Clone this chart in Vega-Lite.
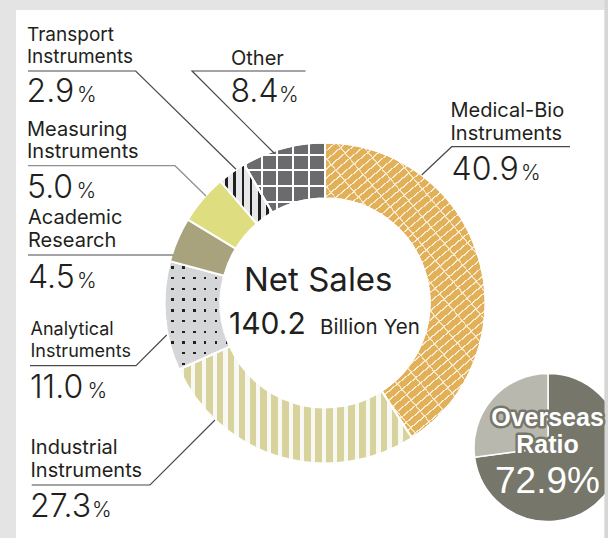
{
  "$schema": "https://vega.github.io/schema/vega-lite/v6.json",
  "width": 608,
  "height": 538,
  "autosize": {"type": "none"},
  "padding": 0,
  "background": "#e4e4e4",
  "config": {"view": {"stroke": null}},
  "layer": [
    {
      "data": {"values": [{}]},
      "mark": {"type": "rect", "fill": "#ffffff"},
      "encoding": {
        "x": {"datum": 16, "type": "quantitative", "scale": {"domain": [0, 608], "nice": false, "zero": false}, "axis": null},
        "x2": {"datum": 604.5},
        "y": {"datum": 10, "type": "quantitative", "scale": {"domain": [0, 538], "nice": false, "zero": false, "reverse": true}, "axis": null},
        "y2": {"datum": 538}
      }
    },
    {
      "data": {"values": [
        {"cat": "Medical-Bio Instruments", "v": 40.9, "o": 1},
        {"cat": "Industrial Instruments", "v": 27.3, "o": 2},
        {"cat": "Analytical Instruments", "v": 11.0, "o": 3},
        {"cat": "Academic Research", "v": 4.5, "o": 4},
        {"cat": "Measuring Instruments", "v": 5.0, "o": 5},
        {"cat": "Transport Instruments", "v": 2.9, "o": 6},
        {"cat": "Other", "v": 8.4, "o": 7}
      ]},
      "transform": [{"stack": "v", "groupby": [], "sort": [{"field": "o", "order": "ascending"}], "as": ["s0", "s1"]}],
      "encoding": {
        "theta": {"field": "s0", "type": "quantitative", "scale": {"domain": [0, 100], "nice": false, "zero": false}},
        "theta2": {"field": "s1"},
        "x": {"datum": 325, "type": "quantitative", "scale": {"domain": [0, 608], "nice": false, "zero": false}, "axis": null},
        "y": {"datum": 303, "type": "quantitative", "scale": {"domain": [0, 538], "nice": false, "zero": false, "reverse": true}, "axis": null}
      },
      "layer": [
        {
          "transform": [{"filter": "datum.cat == 'Medical-Bio Instruments'"}],
          "mark": {"type": "arc", "radius": 160.5, "radius2": 104.5, "stroke": "#ffffff", "strokeWidth": 2,
            "fill": {"gradient": "linear", "x1": 0, "y1": 0, "x2": 0.548, "y2": 1.205, "stops": [
              {"offset": 0, "color": "#e3b05a"},
              {"offset": 0.0193, "color": "#e3b05a"}, {"offset": 0.0193, "color": "#f8ecd2"}, {"offset": 0.0233, "color": "#f8ecd2"}, {"offset": 0.0233, "color": "#e3b05a"},
              {"offset": 0.0406, "color": "#e3b05a"}, {"offset": 0.0406, "color": "#f8ecd2"}, {"offset": 0.0446, "color": "#f8ecd2"}, {"offset": 0.0446, "color": "#e3b05a"},
              {"offset": 0.0619, "color": "#e3b05a"}, {"offset": 0.0619, "color": "#f8ecd2"}, {"offset": 0.0659, "color": "#f8ecd2"}, {"offset": 0.0659, "color": "#e3b05a"},
              {"offset": 0.0832, "color": "#e3b05a"}, {"offset": 0.0832, "color": "#f8ecd2"}, {"offset": 0.0872, "color": "#f8ecd2"}, {"offset": 0.0872, "color": "#e3b05a"},
              {"offset": 0.1046, "color": "#e3b05a"}, {"offset": 0.1046, "color": "#f8ecd2"}, {"offset": 0.1086, "color": "#f8ecd2"}, {"offset": 0.1086, "color": "#e3b05a"},
              {"offset": 0.1259, "color": "#e3b05a"}, {"offset": 0.1259, "color": "#f8ecd2"}, {"offset": 0.1299, "color": "#f8ecd2"}, {"offset": 0.1299, "color": "#e3b05a"},
              {"offset": 0.1472, "color": "#e3b05a"}, {"offset": 0.1472, "color": "#f8ecd2"}, {"offset": 0.1512, "color": "#f8ecd2"}, {"offset": 0.1512, "color": "#e3b05a"},
              {"offset": 0.1685, "color": "#e3b05a"}, {"offset": 0.1685, "color": "#f8ecd2"}, {"offset": 0.1725, "color": "#f8ecd2"}, {"offset": 0.1725, "color": "#e3b05a"},
              {"offset": 0.1898, "color": "#e3b05a"}, {"offset": 0.1898, "color": "#f8ecd2"}, {"offset": 0.1938, "color": "#f8ecd2"}, {"offset": 0.1938, "color": "#e3b05a"},
              {"offset": 0.2111, "color": "#e3b05a"}, {"offset": 0.2111, "color": "#f8ecd2"}, {"offset": 0.2151, "color": "#f8ecd2"}, {"offset": 0.2151, "color": "#e3b05a"},
              {"offset": 0.2324, "color": "#e3b05a"}, {"offset": 0.2324, "color": "#f8ecd2"}, {"offset": 0.2364, "color": "#f8ecd2"}, {"offset": 0.2364, "color": "#e3b05a"},
              {"offset": 0.2537, "color": "#e3b05a"}, {"offset": 0.2537, "color": "#f8ecd2"}, {"offset": 0.2577, "color": "#f8ecd2"}, {"offset": 0.2577, "color": "#e3b05a"},
              {"offset": 0.2750, "color": "#e3b05a"}, {"offset": 0.2750, "color": "#f8ecd2"}, {"offset": 0.2790, "color": "#f8ecd2"}, {"offset": 0.2790, "color": "#e3b05a"},
              {"offset": 0.2963, "color": "#e3b05a"}, {"offset": 0.2963, "color": "#f8ecd2"}, {"offset": 0.3003, "color": "#f8ecd2"}, {"offset": 0.3003, "color": "#e3b05a"},
              {"offset": 0.3177, "color": "#e3b05a"}, {"offset": 0.3177, "color": "#f8ecd2"}, {"offset": 0.3217, "color": "#f8ecd2"}, {"offset": 0.3217, "color": "#e3b05a"},
              {"offset": 0.3390, "color": "#e3b05a"}, {"offset": 0.3390, "color": "#f8ecd2"}, {"offset": 0.3430, "color": "#f8ecd2"}, {"offset": 0.3430, "color": "#e3b05a"},
              {"offset": 0.3603, "color": "#e3b05a"}, {"offset": 0.3603, "color": "#f8ecd2"}, {"offset": 0.3643, "color": "#f8ecd2"}, {"offset": 0.3643, "color": "#e3b05a"},
              {"offset": 0.3816, "color": "#e3b05a"}, {"offset": 0.3816, "color": "#f8ecd2"}, {"offset": 0.3856, "color": "#f8ecd2"}, {"offset": 0.3856, "color": "#e3b05a"},
              {"offset": 0.4029, "color": "#e3b05a"}, {"offset": 0.4029, "color": "#f8ecd2"}, {"offset": 0.4069, "color": "#f8ecd2"}, {"offset": 0.4069, "color": "#e3b05a"},
              {"offset": 0.4242, "color": "#e3b05a"}, {"offset": 0.4242, "color": "#f8ecd2"}, {"offset": 0.4282, "color": "#f8ecd2"}, {"offset": 0.4282, "color": "#e3b05a"},
              {"offset": 0.4455, "color": "#e3b05a"}, {"offset": 0.4455, "color": "#f8ecd2"}, {"offset": 0.4495, "color": "#f8ecd2"}, {"offset": 0.4495, "color": "#e3b05a"},
              {"offset": 0.4668, "color": "#e3b05a"}, {"offset": 0.4668, "color": "#f8ecd2"}, {"offset": 0.4708, "color": "#f8ecd2"}, {"offset": 0.4708, "color": "#e3b05a"},
              {"offset": 0.4881, "color": "#e3b05a"}, {"offset": 0.4881, "color": "#f8ecd2"}, {"offset": 0.4921, "color": "#f8ecd2"}, {"offset": 0.4921, "color": "#e3b05a"},
              {"offset": 0.5094, "color": "#e3b05a"}, {"offset": 0.5094, "color": "#f8ecd2"}, {"offset": 0.5134, "color": "#f8ecd2"}, {"offset": 0.5134, "color": "#e3b05a"},
              {"offset": 0.5308, "color": "#e3b05a"}, {"offset": 0.5308, "color": "#f8ecd2"}, {"offset": 0.5348, "color": "#f8ecd2"}, {"offset": 0.5348, "color": "#e3b05a"},
              {"offset": 0.5521, "color": "#e3b05a"}, {"offset": 0.5521, "color": "#f8ecd2"}, {"offset": 0.5561, "color": "#f8ecd2"}, {"offset": 0.5561, "color": "#e3b05a"},
              {"offset": 0.5734, "color": "#e3b05a"}, {"offset": 0.5734, "color": "#f8ecd2"}, {"offset": 0.5774, "color": "#f8ecd2"}, {"offset": 0.5774, "color": "#e3b05a"},
              {"offset": 0.5947, "color": "#e3b05a"}, {"offset": 0.5947, "color": "#f8ecd2"}, {"offset": 0.5987, "color": "#f8ecd2"}, {"offset": 0.5987, "color": "#e3b05a"},
              {"offset": 0.6160, "color": "#e3b05a"}, {"offset": 0.6160, "color": "#f8ecd2"}, {"offset": 0.6200, "color": "#f8ecd2"}, {"offset": 0.6200, "color": "#e3b05a"},
              {"offset": 0.6373, "color": "#e3b05a"}, {"offset": 0.6373, "color": "#f8ecd2"}, {"offset": 0.6413, "color": "#f8ecd2"}, {"offset": 0.6413, "color": "#e3b05a"},
              {"offset": 0.6586, "color": "#e3b05a"}, {"offset": 0.6586, "color": "#f8ecd2"}, {"offset": 0.6626, "color": "#f8ecd2"}, {"offset": 0.6626, "color": "#e3b05a"},
              {"offset": 0.6799, "color": "#e3b05a"}, {"offset": 0.6799, "color": "#f8ecd2"}, {"offset": 0.6839, "color": "#f8ecd2"}, {"offset": 0.6839, "color": "#e3b05a"},
              {"offset": 0.7012, "color": "#e3b05a"}, {"offset": 0.7012, "color": "#f8ecd2"}, {"offset": 0.7052, "color": "#f8ecd2"}, {"offset": 0.7052, "color": "#e3b05a"},
              {"offset": 0.7225, "color": "#e3b05a"}, {"offset": 0.7225, "color": "#f8ecd2"}, {"offset": 0.7265, "color": "#f8ecd2"}, {"offset": 0.7265, "color": "#e3b05a"},
              {"offset": 0.7439, "color": "#e3b05a"}, {"offset": 0.7439, "color": "#f8ecd2"}, {"offset": 0.7479, "color": "#f8ecd2"}, {"offset": 0.7479, "color": "#e3b05a"},
              {"offset": 0.7652, "color": "#e3b05a"}, {"offset": 0.7652, "color": "#f8ecd2"}, {"offset": 0.7692, "color": "#f8ecd2"}, {"offset": 0.7692, "color": "#e3b05a"},
              {"offset": 0.7865, "color": "#e3b05a"}, {"offset": 0.7865, "color": "#f8ecd2"}, {"offset": 0.7905, "color": "#f8ecd2"}, {"offset": 0.7905, "color": "#e3b05a"},
              {"offset": 0.8078, "color": "#e3b05a"}, {"offset": 0.8078, "color": "#f8ecd2"}, {"offset": 0.8118, "color": "#f8ecd2"}, {"offset": 0.8118, "color": "#e3b05a"},
              {"offset": 0.8291, "color": "#e3b05a"}, {"offset": 0.8291, "color": "#f8ecd2"}, {"offset": 0.8331, "color": "#f8ecd2"}, {"offset": 0.8331, "color": "#e3b05a"},
              {"offset": 0.8504, "color": "#e3b05a"}, {"offset": 0.8504, "color": "#f8ecd2"}, {"offset": 0.8544, "color": "#f8ecd2"}, {"offset": 0.8544, "color": "#e3b05a"},
              {"offset": 0.8717, "color": "#e3b05a"}, {"offset": 0.8717, "color": "#f8ecd2"}, {"offset": 0.8757, "color": "#f8ecd2"}, {"offset": 0.8757, "color": "#e3b05a"},
              {"offset": 0.8930, "color": "#e3b05a"}, {"offset": 0.8930, "color": "#f8ecd2"}, {"offset": 0.8970, "color": "#f8ecd2"}, {"offset": 0.8970, "color": "#e3b05a"},
              {"offset": 0.9143, "color": "#e3b05a"}, {"offset": 0.9143, "color": "#f8ecd2"}, {"offset": 0.9183, "color": "#f8ecd2"}, {"offset": 0.9183, "color": "#e3b05a"},
              {"offset": 0.9356, "color": "#e3b05a"}, {"offset": 0.9356, "color": "#f8ecd2"}, {"offset": 0.9396, "color": "#f8ecd2"}, {"offset": 0.9396, "color": "#e3b05a"},
              {"offset": 0.9570, "color": "#e3b05a"}, {"offset": 0.9570, "color": "#f8ecd2"}, {"offset": 0.9610, "color": "#f8ecd2"}, {"offset": 0.9610, "color": "#e3b05a"},
              {"offset": 0.9783, "color": "#e3b05a"}, {"offset": 0.9783, "color": "#f8ecd2"}, {"offset": 0.9823, "color": "#f8ecd2"}, {"offset": 0.9823, "color": "#e3b05a"},
              {"offset": 1, "color": "#e3b05a"}
            ]}}
        },
        {
          "transform": [{"filter": "datum.cat == 'Medical-Bio Instruments'"}],
          "mark": {"type": "arc", "radius": 160.5, "radius2": 104.5, "stroke": "#ffffff", "strokeWidth": 2,
            "fill": {"gradient": "linear", "x1": 0, "y1": 1, "x2": 0.7513, "y2": -0.1609, "stops": [
              {"offset": 0, "color": "rgba(248,236,210,0)"},
              {"offset": 0.0556, "color": "rgba(248,236,210,0)"}, {"offset": 0.0556, "color": "rgba(248,236,210,0.85)"}, {"offset": 0.0598, "color": "rgba(248,236,210,0.85)"}, {"offset": 0.0598, "color": "rgba(248,236,210,0)"},
              {"offset": 0.1133, "color": "rgba(248,236,210,0)"}, {"offset": 0.1133, "color": "rgba(248,236,210,0.85)"}, {"offset": 0.1175, "color": "rgba(248,236,210,0.85)"}, {"offset": 0.1175, "color": "rgba(248,236,210,0)"},
              {"offset": 0.1710, "color": "rgba(248,236,210,0)"}, {"offset": 0.1710, "color": "rgba(248,236,210,0.85)"}, {"offset": 0.1752, "color": "rgba(248,236,210,0.85)"}, {"offset": 0.1752, "color": "rgba(248,236,210,0)"},
              {"offset": 0.2287, "color": "rgba(248,236,210,0)"}, {"offset": 0.2287, "color": "rgba(248,236,210,0.85)"}, {"offset": 0.2329, "color": "rgba(248,236,210,0.85)"}, {"offset": 0.2329, "color": "rgba(248,236,210,0)"},
              {"offset": 0.2864, "color": "rgba(248,236,210,0)"}, {"offset": 0.2864, "color": "rgba(248,236,210,0.85)"}, {"offset": 0.2906, "color": "rgba(248,236,210,0.85)"}, {"offset": 0.2906, "color": "rgba(248,236,210,0)"},
              {"offset": 0.3441, "color": "rgba(248,236,210,0)"}, {"offset": 0.3441, "color": "rgba(248,236,210,0.85)"}, {"offset": 0.3483, "color": "rgba(248,236,210,0.85)"}, {"offset": 0.3483, "color": "rgba(248,236,210,0)"},
              {"offset": 0.4018, "color": "rgba(248,236,210,0)"}, {"offset": 0.4018, "color": "rgba(248,236,210,0.85)"}, {"offset": 0.4060, "color": "rgba(248,236,210,0.85)"}, {"offset": 0.4060, "color": "rgba(248,236,210,0)"},
              {"offset": 0.4595, "color": "rgba(248,236,210,0)"}, {"offset": 0.4595, "color": "rgba(248,236,210,0.85)"}, {"offset": 0.4637, "color": "rgba(248,236,210,0.85)"}, {"offset": 0.4637, "color": "rgba(248,236,210,0)"},
              {"offset": 0.5172, "color": "rgba(248,236,210,0)"}, {"offset": 0.5172, "color": "rgba(248,236,210,0.85)"}, {"offset": 0.5214, "color": "rgba(248,236,210,0.85)"}, {"offset": 0.5214, "color": "rgba(248,236,210,0)"},
              {"offset": 0.5749, "color": "rgba(248,236,210,0)"}, {"offset": 0.5749, "color": "rgba(248,236,210,0.85)"}, {"offset": 0.5791, "color": "rgba(248,236,210,0.85)"}, {"offset": 0.5791, "color": "rgba(248,236,210,0)"},
              {"offset": 0.6326, "color": "rgba(248,236,210,0)"}, {"offset": 0.6326, "color": "rgba(248,236,210,0.85)"}, {"offset": 0.6368, "color": "rgba(248,236,210,0.85)"}, {"offset": 0.6368, "color": "rgba(248,236,210,0)"},
              {"offset": 0.6903, "color": "rgba(248,236,210,0)"}, {"offset": 0.6903, "color": "rgba(248,236,210,0.85)"}, {"offset": 0.6945, "color": "rgba(248,236,210,0.85)"}, {"offset": 0.6945, "color": "rgba(248,236,210,0)"},
              {"offset": 0.7480, "color": "rgba(248,236,210,0)"}, {"offset": 0.7480, "color": "rgba(248,236,210,0.85)"}, {"offset": 0.7522, "color": "rgba(248,236,210,0.85)"}, {"offset": 0.7522, "color": "rgba(248,236,210,0)"},
              {"offset": 0.8057, "color": "rgba(248,236,210,0)"}, {"offset": 0.8057, "color": "rgba(248,236,210,0.85)"}, {"offset": 0.8099, "color": "rgba(248,236,210,0.85)"}, {"offset": 0.8099, "color": "rgba(248,236,210,0)"},
              {"offset": 0.8634, "color": "rgba(248,236,210,0)"}, {"offset": 0.8634, "color": "rgba(248,236,210,0.85)"}, {"offset": 0.8676, "color": "rgba(248,236,210,0.85)"}, {"offset": 0.8676, "color": "rgba(248,236,210,0)"},
              {"offset": 0.9211, "color": "rgba(248,236,210,0)"}, {"offset": 0.9211, "color": "rgba(248,236,210,0.85)"}, {"offset": 0.9253, "color": "rgba(248,236,210,0.85)"}, {"offset": 0.9253, "color": "rgba(248,236,210,0)"},
              {"offset": 1, "color": "rgba(248,236,210,0)"}
            ]}}
        },
        {
          "transform": [{"filter": "datum.cat == 'Industrial Instruments'"}],
          "mark": {"type": "arc", "radius": 160.5, "radius2": 104.5, "stroke": "#ffffff", "strokeWidth": 2,
            "fill": {"gradient": "linear", "x1": 0, "y1": 0, "x2": 1, "y2": 0, "stops": [
              {"offset": 0, "color": "#d8d39d"},
              {"offset": 0.0035, "color": "#d8d39d"}, {"offset": 0.0035, "color": "#f8f8f4"}, {"offset": 0.0215, "color": "#f8f8f4"}, {"offset": 0.0215, "color": "#d8d39d"},
              {"offset": 0.0504, "color": "#d8d39d"}, {"offset": 0.0504, "color": "#f8f8f4"}, {"offset": 0.0684, "color": "#f8f8f4"}, {"offset": 0.0684, "color": "#d8d39d"},
              {"offset": 0.0973, "color": "#d8d39d"}, {"offset": 0.0973, "color": "#f8f8f4"}, {"offset": 0.1153, "color": "#f8f8f4"}, {"offset": 0.1153, "color": "#d8d39d"},
              {"offset": 0.1442, "color": "#d8d39d"}, {"offset": 0.1442, "color": "#f8f8f4"}, {"offset": 0.1622, "color": "#f8f8f4"}, {"offset": 0.1622, "color": "#d8d39d"},
              {"offset": 0.1912, "color": "#d8d39d"}, {"offset": 0.1912, "color": "#f8f8f4"}, {"offset": 0.2092, "color": "#f8f8f4"}, {"offset": 0.2092, "color": "#d8d39d"},
              {"offset": 0.2381, "color": "#d8d39d"}, {"offset": 0.2381, "color": "#f8f8f4"}, {"offset": 0.2561, "color": "#f8f8f4"}, {"offset": 0.2561, "color": "#d8d39d"},
              {"offset": 0.2850, "color": "#d8d39d"}, {"offset": 0.2850, "color": "#f8f8f4"}, {"offset": 0.3030, "color": "#f8f8f4"}, {"offset": 0.3030, "color": "#d8d39d"},
              {"offset": 0.3319, "color": "#d8d39d"}, {"offset": 0.3319, "color": "#f8f8f4"}, {"offset": 0.3499, "color": "#f8f8f4"}, {"offset": 0.3499, "color": "#d8d39d"},
              {"offset": 0.3789, "color": "#d8d39d"}, {"offset": 0.3789, "color": "#f8f8f4"}, {"offset": 0.3969, "color": "#f8f8f4"}, {"offset": 0.3969, "color": "#d8d39d"},
              {"offset": 0.4258, "color": "#d8d39d"}, {"offset": 0.4258, "color": "#f8f8f4"}, {"offset": 0.4438, "color": "#f8f8f4"}, {"offset": 0.4438, "color": "#d8d39d"},
              {"offset": 0.4727, "color": "#d8d39d"}, {"offset": 0.4727, "color": "#f8f8f4"}, {"offset": 0.4907, "color": "#f8f8f4"}, {"offset": 0.4907, "color": "#d8d39d"},
              {"offset": 0.5196, "color": "#d8d39d"}, {"offset": 0.5196, "color": "#f8f8f4"}, {"offset": 0.5376, "color": "#f8f8f4"}, {"offset": 0.5376, "color": "#d8d39d"},
              {"offset": 0.5666, "color": "#d8d39d"}, {"offset": 0.5666, "color": "#f8f8f4"}, {"offset": 0.5846, "color": "#f8f8f4"}, {"offset": 0.5846, "color": "#d8d39d"},
              {"offset": 0.6135, "color": "#d8d39d"}, {"offset": 0.6135, "color": "#f8f8f4"}, {"offset": 0.6315, "color": "#f8f8f4"}, {"offset": 0.6315, "color": "#d8d39d"},
              {"offset": 0.6604, "color": "#d8d39d"}, {"offset": 0.6604, "color": "#f8f8f4"}, {"offset": 0.6784, "color": "#f8f8f4"}, {"offset": 0.6784, "color": "#d8d39d"},
              {"offset": 0.7073, "color": "#d8d39d"}, {"offset": 0.7073, "color": "#f8f8f4"}, {"offset": 0.7253, "color": "#f8f8f4"}, {"offset": 0.7253, "color": "#d8d39d"},
              {"offset": 0.7542, "color": "#d8d39d"}, {"offset": 0.7542, "color": "#f8f8f4"}, {"offset": 0.7722, "color": "#f8f8f4"}, {"offset": 0.7722, "color": "#d8d39d"},
              {"offset": 0.8012, "color": "#d8d39d"}, {"offset": 0.8012, "color": "#f8f8f4"}, {"offset": 0.8192, "color": "#f8f8f4"}, {"offset": 0.8192, "color": "#d8d39d"},
              {"offset": 0.8481, "color": "#d8d39d"}, {"offset": 0.8481, "color": "#f8f8f4"}, {"offset": 0.8661, "color": "#f8f8f4"}, {"offset": 0.8661, "color": "#d8d39d"},
              {"offset": 0.8950, "color": "#d8d39d"}, {"offset": 0.8950, "color": "#f8f8f4"}, {"offset": 0.9130, "color": "#f8f8f4"}, {"offset": 0.9130, "color": "#d8d39d"},
              {"offset": 0.9419, "color": "#d8d39d"}, {"offset": 0.9419, "color": "#f8f8f4"}, {"offset": 0.9599, "color": "#f8f8f4"}, {"offset": 0.9599, "color": "#d8d39d"},
              {"offset": 1, "color": "#d8d39d"}
            ]}}
        },
        {
          "transform": [{"filter": "datum.cat == 'Analytical Instruments'"}],
          "mark": {"type": "arc", "radius": 160.5, "radius2": 104.5, "stroke": "#ffffff", "strokeWidth": 2, "fill": "#231f20"}
        },
        {
          "transform": [{"filter": "datum.cat == 'Analytical Instruments'"}],
          "mark": {"type": "arc", "radius": 160.5, "radius2": 104.5, "stroke": "#ffffff", "strokeWidth": 2,
            "fill": {"gradient": "linear", "x1": 0, "y1": 0, "x2": 1, "y2": 0, "stops": [
              {"offset": 0, "color": "#d5d6d8"},
              {"offset": 0.1054, "color": "#d5d6d8"}, {"offset": 0.1054, "color": "rgba(213,214,216,0)"}, {"offset": 0.1426, "color": "rgba(213,214,216,0)"}, {"offset": 0.1426, "color": "#d5d6d8"},
              {"offset": 0.2714, "color": "#d5d6d8"}, {"offset": 0.2714, "color": "rgba(213,214,216,0)"}, {"offset": 0.3086, "color": "rgba(213,214,216,0)"}, {"offset": 0.3086, "color": "#d5d6d8"},
              {"offset": 0.4374, "color": "#d5d6d8"}, {"offset": 0.4374, "color": "rgba(213,214,216,0)"}, {"offset": 0.4746, "color": "rgba(213,214,216,0)"}, {"offset": 0.4746, "color": "#d5d6d8"},
              {"offset": 0.6034, "color": "#d5d6d8"}, {"offset": 0.6034, "color": "rgba(213,214,216,0)"}, {"offset": 0.6406, "color": "rgba(213,214,216,0)"}, {"offset": 0.6406, "color": "#d5d6d8"},
              {"offset": 0.7694, "color": "#d5d6d8"}, {"offset": 0.7694, "color": "rgba(213,214,216,0)"}, {"offset": 0.8066, "color": "rgba(213,214,216,0)"}, {"offset": 0.8066, "color": "#d5d6d8"},
              {"offset": 0.9344, "color": "#d5d6d8"}, {"offset": 0.9344, "color": "rgba(213,214,216,0)"}, {"offset": 0.9716, "color": "rgba(213,214,216,0)"}, {"offset": 0.9716, "color": "#d5d6d8"},
              {"offset": 1, "color": "#d5d6d8"}
            ]}}
        },
        {
          "transform": [{"filter": "datum.cat == 'Analytical Instruments'"}],
          "mark": {"type": "arc", "radius": 160.5, "radius2": 104.5, "stroke": "#ffffff", "strokeWidth": 2,
            "fill": {"gradient": "linear", "x1": 0, "y1": 0, "x2": 0, "y2": 1, "stops": [
              {"offset": 0, "color": "#d5d6d8"},
              {"offset": 0.0473, "color": "#d5d6d8"}, {"offset": 0.0473, "color": "rgba(213,214,216,0)"}, {"offset": 0.0693, "color": "rgba(213,214,216,0)"}, {"offset": 0.0693, "color": "#d5d6d8"},
              {"offset": 0.146, "color": "#d5d6d8"}, {"offset": 0.146, "color": "rgba(213,214,216,0)"}, {"offset": 0.168, "color": "rgba(213,214,216,0)"}, {"offset": 0.168, "color": "#d5d6d8"},
              {"offset": 0.245, "color": "#d5d6d8"}, {"offset": 0.245, "color": "rgba(213,214,216,0)"}, {"offset": 0.267, "color": "rgba(213,214,216,0)"}, {"offset": 0.267, "color": "#d5d6d8"},
              {"offset": 0.344, "color": "#d5d6d8"}, {"offset": 0.344, "color": "rgba(213,214,216,0)"}, {"offset": 0.366, "color": "rgba(213,214,216,0)"}, {"offset": 0.366, "color": "#d5d6d8"},
              {"offset": 0.443, "color": "#d5d6d8"}, {"offset": 0.443, "color": "rgba(213,214,216,0)"}, {"offset": 0.465, "color": "rgba(213,214,216,0)"}, {"offset": 0.465, "color": "#d5d6d8"},
              {"offset": 0.542, "color": "#d5d6d8"}, {"offset": 0.542, "color": "rgba(213,214,216,0)"}, {"offset": 0.564, "color": "rgba(213,214,216,0)"}, {"offset": 0.564, "color": "#d5d6d8"},
              {"offset": 0.641, "color": "#d5d6d8"}, {"offset": 0.641, "color": "rgba(213,214,216,0)"}, {"offset": 0.663, "color": "rgba(213,214,216,0)"}, {"offset": 0.663, "color": "#d5d6d8"},
              {"offset": 0.740, "color": "#d5d6d8"}, {"offset": 0.740, "color": "rgba(213,214,216,0)"}, {"offset": 0.762, "color": "rgba(213,214,216,0)"}, {"offset": 0.762, "color": "#d5d6d8"},
              {"offset": 0.839, "color": "#d5d6d8"}, {"offset": 0.839, "color": "rgba(213,214,216,0)"}, {"offset": 0.861, "color": "rgba(213,214,216,0)"}, {"offset": 0.861, "color": "#d5d6d8"},
              {"offset": 0.938, "color": "#d5d6d8"}, {"offset": 0.938, "color": "rgba(213,214,216,0)"}, {"offset": 0.960, "color": "rgba(213,214,216,0)"}, {"offset": 0.960, "color": "#d5d6d8"},
              {"offset": 1, "color": "#d5d6d8"}
            ]}}
        },
        {
          "transform": [{"filter": "datum.cat == 'Academic Research'"}],
          "mark": {"type": "arc", "radius": 160.5, "radius2": 104.5, "stroke": "#ffffff", "strokeWidth": 2, "fill": "#a8a37c"}
        },
        {
          "transform": [{"filter": "datum.cat == 'Measuring Instruments'"}],
          "mark": {"type": "arc", "radius": 160.5, "radius2": 104.5, "stroke": "#ffffff", "strokeWidth": 2, "fill": "#dedd80"}
        },
        {
          "transform": [{"filter": "datum.cat == 'Transport Instruments'"}],
          "mark": {"type": "arc", "radius": 160.5, "radius2": 104.5, "stroke": "#ffffff", "strokeWidth": 2,
            "fill": {"gradient": "linear", "x1": 0, "y1": 0, "x2": 1, "y2": 0, "stops": [
              {"offset": 0, "color": "#e6e7e9"},
              {"offset": 0.092, "color": "#e6e7e9"}, {"offset": 0.092, "color": "#231f20"}, {"offset": 0.142, "color": "#231f20"}, {"offset": 0.142, "color": "#e6e7e9"},
              {"offset": 0.250, "color": "#e6e7e9"}, {"offset": 0.250, "color": "#231f20"}, {"offset": 0.300, "color": "#231f20"}, {"offset": 0.300, "color": "#e6e7e9"},
              {"offset": 0.408, "color": "#e6e7e9"}, {"offset": 0.408, "color": "#231f20"}, {"offset": 0.458, "color": "#231f20"}, {"offset": 0.458, "color": "#e6e7e9"},
              {"offset": 0.566, "color": "#e6e7e9"}, {"offset": 0.566, "color": "#231f20"}, {"offset": 0.616, "color": "#231f20"}, {"offset": 0.616, "color": "#e6e7e9"},
              {"offset": 0.724, "color": "#e6e7e9"}, {"offset": 0.724, "color": "#231f20"}, {"offset": 0.774, "color": "#231f20"}, {"offset": 0.774, "color": "#e6e7e9"},
              {"offset": 0.882, "color": "#e6e7e9"}, {"offset": 0.882, "color": "#231f20"}, {"offset": 0.932, "color": "#231f20"}, {"offset": 0.932, "color": "#e6e7e9"},
              {"offset": 1, "color": "#e6e7e9"}
            ]}}
        },
        {
          "transform": [{"filter": "datum.cat == 'Other'"}],
          "mark": {"type": "arc", "radius": 160.5, "radius2": 104.5, "stroke": "#ffffff", "strokeWidth": 2,
            "fill": {"gradient": "linear", "x1": 0, "y1": 0, "x2": 1, "y2": 0, "stops": [
              {"offset": 0, "color": "#6b6b6d"},
              {"offset": 0.0066, "color": "#6b6b6d"}, {"offset": 0.0066, "color": "#ffffff"}, {"offset": 0.0314, "color": "#ffffff"}, {"offset": 0.0314, "color": "#6b6b6d"},
              {"offset": 0.2026, "color": "#6b6b6d"}, {"offset": 0.2026, "color": "#ffffff"}, {"offset": 0.2274, "color": "#ffffff"}, {"offset": 0.2274, "color": "#6b6b6d"},
              {"offset": 0.3986, "color": "#6b6b6d"}, {"offset": 0.3986, "color": "#ffffff"}, {"offset": 0.4234, "color": "#ffffff"}, {"offset": 0.4234, "color": "#6b6b6d"},
              {"offset": 0.5946, "color": "#6b6b6d"}, {"offset": 0.5946, "color": "#ffffff"}, {"offset": 0.6194, "color": "#ffffff"}, {"offset": 0.6194, "color": "#6b6b6d"},
              {"offset": 0.7916, "color": "#6b6b6d"}, {"offset": 0.7916, "color": "#ffffff"}, {"offset": 0.8164, "color": "#ffffff"}, {"offset": 0.8164, "color": "#6b6b6d"},
              {"offset": 1, "color": "#6b6b6d"}
            ]}}
        },
        {
          "transform": [{"filter": "datum.cat == 'Other'"}],
          "mark": {"type": "arc", "radius": 160.5, "radius2": 104.5, "stroke": "#ffffff", "strokeWidth": 2,
            "fill": {"gradient": "linear", "x1": 0, "y1": 0, "x2": 0, "y2": 1, "stops": [
              {"offset": 0, "color": "rgba(255,255,255,0)"},
              {"offset": 0.1586, "color": "rgba(255,255,255,0)"}, {"offset": 0.1586, "color": "#ffffff"}, {"offset": 0.1874, "color": "#ffffff"}, {"offset": 0.1874, "color": "rgba(255,255,255,0)"},
              {"offset": 0.3826, "color": "rgba(255,255,255,0)"}, {"offset": 0.3826, "color": "#ffffff"}, {"offset": 0.4114, "color": "#ffffff"}, {"offset": 0.4114, "color": "rgba(255,255,255,0)"},
              {"offset": 0.6066, "color": "rgba(255,255,255,0)"}, {"offset": 0.6066, "color": "#ffffff"}, {"offset": 0.6354, "color": "#ffffff"}, {"offset": 0.6354, "color": "rgba(255,255,255,0)"},
              {"offset": 0.8296, "color": "rgba(255,255,255,0)"}, {"offset": 0.8296, "color": "#ffffff"}, {"offset": 0.8584, "color": "#ffffff"}, {"offset": 0.8584, "color": "rgba(255,255,255,0)"},
              {"offset": 1, "color": "rgba(255,255,255,0)"}
            ]}}
        }
      ]
    },
    {
      "data": {"values": [
        {"k": "Overseas", "v": 72.9, "o": 1},
        {"k": "Domestic", "v": 27.1, "o": 2}
      ]},
      "transform": [{"stack": "v", "groupby": [], "sort": [{"field": "o", "order": "ascending"}], "as": ["s0", "s1"]}],
      "mark": {"type": "arc", "radius": 74, "stroke": "#ffffff", "strokeWidth": 1.5, "clip": true},
      "encoding": {
        "theta": {"field": "s0", "type": "quantitative", "scale": {"domain": [0, 100], "nice": false, "zero": false}},
        "theta2": {"field": "s1"},
        "x": {"datum": 548, "type": "quantitative", "scale": {"domain": [0, 608], "nice": false, "zero": false}, "axis": null},
        "y": {"datum": 447.5, "type": "quantitative", "scale": {"domain": [0, 538], "nice": false, "zero": false, "reverse": true}, "axis": null},
        "fill": {"field": "k", "type": "nominal", "scale": {"domain": ["Overseas", "Domestic"], "range": ["#76766b", "#b9b8ae"]}, "legend": null}
      }
    },
    {
      "data": {"values": [{}]},
      "mark": {"type": "rect", "fill": "#d6d6d6"},
      "encoding": {
        "x": {"datum": 604.5, "type": "quantitative", "scale": {"domain": [0, 608], "nice": false, "zero": false}, "axis": null},
        "x2": {"datum": 608},
        "y": {"datum": 0, "type": "quantitative", "scale": {"domain": [0, 538], "nice": false, "zero": false, "reverse": true}, "axis": null},
        "y2": {"datum": 538}
      }
    },
    {
      "data": {"values": [
        {"g": "Transport", "o": 1, "x": 28, "y": 71}, {"g": "Transport", "o": 2, "x": 135.7, "y": 71}, {"g": "Transport", "o": 3, "x": 236, "y": 169.3},
        {"g": "Other", "o": 1, "x": 305.5, "y": 71}, {"g": "Other", "o": 2, "x": 192, "y": 71}, {"g": "Other", "o": 3, "x": 274, "y": 153},
        {"g": "Medical", "o": 1, "x": 570, "y": 146.7}, {"g": "Medical", "o": 2, "x": 451.7, "y": 146.7}, {"g": "Medical", "o": 3, "x": 421.7, "y": 175},
        {"g": "Measuring", "o": 1, "x": 28, "y": 165.7}, {"g": "Measuring", "o": 2, "x": 175, "y": 165.7}, {"g": "Measuring", "o": 3, "x": 206, "y": 196},
        {"g": "Academic", "o": 1, "x": 28, "y": 255}, {"g": "Academic", "o": 2, "x": 173, "y": 255},
        {"g": "Analytical", "o": 1, "x": 30, "y": 365.7}, {"g": "Analytical", "o": 2, "x": 136, "y": 365.7}, {"g": "Analytical", "o": 3, "x": 166.7, "y": 335},
        {"g": "Industrial", "o": 1, "x": 31.7, "y": 485}, {"g": "Industrial", "o": 2, "x": 150, "y": 485}, {"g": "Industrial", "o": 3, "x": 215, "y": 420}
      ]},
      "mark": {"type": "line", "strokeWidth": 1.2, "interpolate": "linear"},
      "encoding": {
        "x": {"field": "x", "type": "quantitative", "scale": {"domain": [0, 608], "nice": false, "zero": false}, "axis": null},
        "y": {"field": "y", "type": "quantitative", "scale": {"domain": [0, 538], "nice": false, "zero": false, "reverse": true}, "axis": null},
        "detail": {"field": "g", "type": "nominal"},
        "order": {"field": "o", "type": "quantitative"},
        "color": {"condition": {"test": "datum.g == 'Measuring'", "value": "#8f8f8f"}, "value": "#4a4a4a"}
      }
    },
    {
      "data": {"values": [
        {"g": "Transport", "t": "Transport", "x": 27, "y": 40.7},
        {"g": "Transport", "t": "Instruments", "x": 27, "y": 63.3},
        {"g": "Other", "t": "Other", "x": 231, "y": 65},
        {"g": "Medical", "t": "Medical-Bio", "x": 450.5, "y": 117.3},
        {"g": "Medical", "t": "Instruments", "x": 450.5, "y": 140},
        {"g": "Measuring", "t": "Measuring", "x": 27, "y": 136},
        {"g": "Measuring", "t": "Instruments", "x": 27, "y": 158.3},
        {"g": "Academic", "t": "Academic", "x": 28, "y": 224},
        {"g": "Academic", "t": "Research", "x": 28, "y": 246.7},
        {"g": "Analytical", "t": "Analytical", "x": 30.5, "y": 335},
        {"g": "Analytical", "t": "Instruments", "x": 30.5, "y": 356.7},
        {"g": "Industrial", "t": "Industrial", "x": 30.5, "y": 454},
        {"g": "Industrial", "t": "Instruments", "x": 30.5, "y": 476.5}
      ]},
      "mark": {"type": "text", "align": "left", "baseline": "alphabetic", "font": "Inter", "color": "#231f20"},
      "encoding": {
        "x": {"field": "x", "type": "quantitative", "scale": {"domain": [0, 608], "nice": false, "zero": false}, "axis": null},
        "y": {"field": "y", "type": "quantitative", "scale": {"domain": [0, 538], "nice": false, "zero": false, "reverse": true}, "axis": null},
        "text": {"field": "t"},
        "size": {"condition": [{"test": "datum.g == 'Analytical'", "value": 18}, {"test": "datum.g == 'Transport'", "value": 19}], "value": 20}
      }
    },
    {
      "data": {"values": [
        {"t": "2.9", "x": 26.5, "px": 77, "y": 101.7},
        {"t": "8.4", "x": 230.5, "px": 279, "y": 101.7},
        {"t": "40.9", "x": 451.5, "px": 521, "y": 180},
        {"t": "5.0", "x": 27, "px": 76.5, "y": 197.7},
        {"t": "4.5", "x": 28, "px": 77, "y": 288.3},
        {"t": "11.0", "x": 30, "px": 87.5, "y": 398},
        {"t": "27.3", "x": 30, "px": 92, "y": 516.7}
      ]},
      "layer": [
        {
          "mark": {"type": "text", "align": "left", "baseline": "alphabetic", "font": "Inter", "fontWeight": 300, "fontSize": 32, "color": "#231f20"},
          "encoding": {
            "x": {"field": "x", "type": "quantitative", "scale": {"domain": [0, 608], "nice": false, "zero": false}, "axis": null},
            "y": {"field": "y", "type": "quantitative", "scale": {"domain": [0, 538], "nice": false, "zero": false, "reverse": true}, "axis": null},
            "text": {"field": "t"}
          }
        },
        {
          "mark": {"type": "text", "align": "left", "baseline": "alphabetic", "font": "Inter", "fontWeight": 300, "fontSize": 21, "color": "#231f20", "text": "%"},
          "encoding": {
            "x": {"field": "px", "type": "quantitative", "scale": {"domain": [0, 608], "nice": false, "zero": false}, "axis": null},
            "y": {"field": "y", "type": "quantitative", "scale": {"domain": [0, 538], "nice": false, "zero": false, "reverse": true}, "axis": null}
          }
        }
      ]
    },
    {
      "data": {"values": [
        {"k": "a", "t": "Net Sales", "x": 244, "y": 290.7},
        {"k": "b", "t": "140.2", "x": 229, "y": 334},
        {"k": "c", "t": "Billion Yen", "x": 320, "y": 334}
      ]},
      "mark": {"type": "text", "align": "left", "baseline": "alphabetic", "font": "Inter", "color": "#231f20"},
      "encoding": {
        "x": {"field": "x", "type": "quantitative", "scale": {"domain": [0, 608], "nice": false, "zero": false}, "axis": null},
        "y": {"field": "y", "type": "quantitative", "scale": {"domain": [0, 538], "nice": false, "zero": false, "reverse": true}, "axis": null},
        "text": {"field": "t"},
        "size": {"condition": [{"test": "datum.k == 'a'", "value": 33}, {"test": "datum.k == 'b'", "value": 30}], "value": 20.5}
      }
    },
    {
      "data": {"values": [
        {"t": "Overseas", "x": 547.5, "y": 426},
        {"t": "Ratio", "x": 547.5, "y": 453.3}
      ]},
      "layer": [
        {
          "mark": {"type": "text", "align": "center", "baseline": "alphabetic", "font": "Liberation Sans", "fontWeight": "bold", "fontSize": 25, "fill": "#76766b", "stroke": "#76766b", "strokeWidth": 5, "strokeJoin": "round"},
          "encoding": {
            "x": {"field": "x", "type": "quantitative", "scale": {"domain": [0, 608], "nice": false, "zero": false}, "axis": null},
            "y": {"field": "y", "type": "quantitative", "scale": {"domain": [0, 538], "nice": false, "zero": false, "reverse": true}, "axis": null},
            "text": {"field": "t"}
          }
        },
        {
          "mark": {"type": "text", "align": "center", "baseline": "alphabetic", "font": "Liberation Sans", "fontWeight": "bold", "fontSize": 25, "fill": "#ffffff"},
          "encoding": {
            "x": {"field": "x", "type": "quantitative", "scale": {"domain": [0, 608], "nice": false, "zero": false}, "axis": null},
            "y": {"field": "y", "type": "quantitative", "scale": {"domain": [0, 538], "nice": false, "zero": false, "reverse": true}, "axis": null},
            "text": {"field": "t"}
          }
        }
      ]
    },
    {
      "data": {"values": [{"t": "72.9%", "x": 547.5, "y": 492.7}]},
      "mark": {"type": "text", "align": "center", "baseline": "alphabetic", "font": "Liberation Sans", "fontSize": 37, "fill": "#ffffff"},
      "encoding": {
        "x": {"field": "x", "type": "quantitative", "scale": {"domain": [0, 608], "nice": false, "zero": false}, "axis": null},
        "y": {"field": "y", "type": "quantitative", "scale": {"domain": [0, 538], "nice": false, "zero": false, "reverse": true}, "axis": null},
        "text": {"field": "t"}
      }
    }
  ]
}
